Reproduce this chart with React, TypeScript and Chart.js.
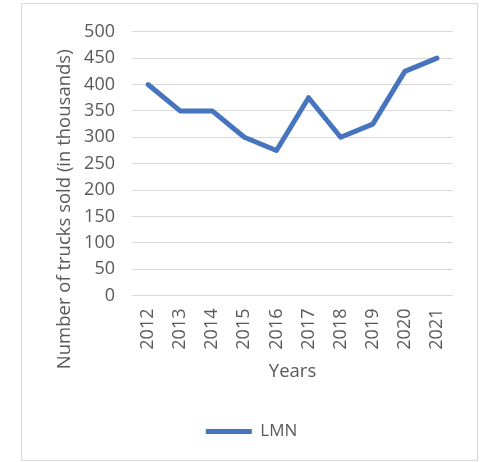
import { useEffect, useRef } from "react";
import { Chart, registerables } from "chart.js";

Chart.register(...registerables);

const years = ["2012", "2013", "2014", "2015", "2016", "2017", "2018", "2019", "2020", "2021"];
const lmn = [400, 350, 350, 300, 275, 375, 300, 325, 425, 450];
const yTicks = { min: 0, max: 500, step: 50 };
const yTitle = "Number of trucks sold (in thousands)";
const xTitle = "Years";
const seriesName = "LMN";

const FONT = "'Open Sans', sans-serif";
const TEXT = "#595959";
const LINE = "#4674BF";

// Excel-style y title: centred on plot + labels, not just on the axis
const yTitlePlugin = {
  id: "yTitle",
  afterDraw(chart: Chart) {
    const { ctx, chartArea } = chart;
    ctx.save();
    ctx.font = `18.5px ${FONT}`;
    ctx.fillStyle = TEXT;
    ctx.textAlign = "center";
    ctx.textBaseline = "alphabetic";
    ctx.translate(chartArea.left - 62, chartArea.top + 177.5);
    ctx.rotate(-Math.PI / 2);
    ctx.fillText(yTitle, 0, 0);
    ctx.restore();
  },
};

// nudge the legend a bit right, the way Excel centres it
const legendShift = {
  id: "legendShift",
  afterLayout(chart: Chart) {
    const lg: any = chart.legend;
    if (!lg) return;
    lg.left += 14;
    lg.right += 14;
  },
};

export default function App() {
  const chartRef = useRef<HTMLCanvasElement>(null);
  const chartInstance = useRef<Chart | null>(null);

  useEffect(() => {
    if (!chartRef.current) return;
    if (chartInstance.current) chartInstance.current.destroy();

    chartInstance.current = new Chart(chartRef.current, {
      type: "line",
      data: {
        labels: years,
        datasets: [
          {
            label: seriesName,
            data: lmn,
            borderColor: LINE,
            backgroundColor: LINE,
            borderWidth: 5,
            borderCapStyle: "round",
            borderJoinStyle: "round",
            pointRadius: 0,
            tension: 0,
          },
        ],
      },
      options: {
        animation: false,
        responsive: true,
        maintainAspectRatio: false,
        layout: { padding: { top: 23, right: 24, bottom: 10, left: 0 } },
        plugins: {
          legend: {
            position: "bottom",
            labels: {
              usePointStyle: true,
              pointStyle: "line",
              pointStyleWidth: 46,
              padding: 10,
              color: TEXT,
              font: { family: FONT, size: 17 },
            },
          },
          tooltip: { enabled: false },
        },
        scales: {
          x: {
            offset: true,
            afterFit: (scale: any) => {
              scale.height = 117.5;
            },
            grid: { display: false, drawTicks: false },
            border: { display: false },
            ticks: {
              minRotation: 90,
              maxRotation: 90,
              padding: 13,
              color: TEXT,
              font: { family: FONT, size: 18 },
            },
            title: {
              display: true,
              text: xTitle,
              color: TEXT,
              font: { family: FONT, size: 18.5 },
              padding: { top: 0, bottom: 30 },
            },
          },
          y: {
            min: yTicks.min,
            max: yTicks.max,
            afterFit: (scale: any) => {
              scale.width = 110;
            },
            grid: { color: "#d9d9d9", lineWidth: 1, drawTicks: false },
            border: { display: false },
            ticks: {
              stepSize: yTicks.step,
              padding: 17,
              color: TEXT,
              font: { family: FONT, size: 18 },
            },
          },
        },
      },
      plugins: [yTitlePlugin, legendShift],
    });

    return () => {
      if (chartInstance.current) chartInstance.current.destroy();
      chartInstance.current = null;
    };
  }, []);

  return (
    <div
      style={{
        position: "fixed",
        left: 21,
        top: 3,
        width: 457,
        height: 458,
        border: "1px solid #d9d9d9",
        boxSizing: "border-box",
        background: "#fff",
      }}
    >
      <canvas ref={chartRef} style={{ width: "100%", height: "100%" }} />
    </div>
  );
}
